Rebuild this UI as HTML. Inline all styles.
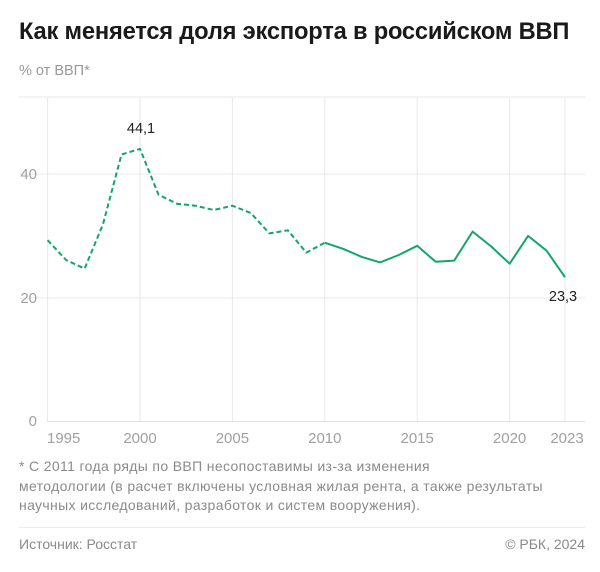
<!DOCTYPE html>
<html><head><meta charset="utf-8"><style>
html,body{margin:0;padding:0;background:#fff;}
body{width:600px;height:572px;position:relative;overflow:hidden;font-family:"Liberation Sans","Noto Sans CJK SC",sans-serif;}
.t{position:absolute;left:19px;top:19px;font-size:23.7px;font-weight:bold;color:#1a1a1a;letter-spacing:-0.2px;white-space:nowrap;}
.s{position:absolute;left:19px;top:63px;font-size:14.5px;color:#999;}
.f{position:absolute;left:19px;top:457px;font-size:14px;line-height:19.5px;color:#8a8a8a;letter-spacing:0.35px;white-space:nowrap;}
.sep{position:absolute;left:19px;right:15px;top:527px;height:1px;background:#ececec;}
.src{position:absolute;left:19px;top:536px;font-size:14px;color:#8a8a8a;}
.cp{position:absolute;right:15px;top:536px;font-size:14px;color:#8a8a8a;}
</style></head><body>
<div class="t">Как меняется доля экспорта в российском ВВП</div>
<div class="s">% от ВВП*</div>
<svg width="600" height="572" style="position:absolute;left:0;top:0">
<g stroke="#e8e8e8" stroke-width="1">
<line x1="19" y1="97" x2="585" y2="97"/>
<line x1="19" y1="174" x2="585" y2="174"/>
<line x1="19" y1="298" x2="585" y2="298"/>
<line x1="47.6" y1="97" x2="47.6" y2="421"/>
<line x1="140" y1="97" x2="140" y2="421"/>
<line x1="232.4" y1="97" x2="232.4" y2="421"/>
<line x1="324.8" y1="97" x2="324.8" y2="421"/>
<line x1="417.2" y1="97" x2="417.2" y2="421"/>
<line x1="509.6" y1="97" x2="509.6" y2="421"/>
<line x1="565" y1="97" x2="565" y2="421"/>
<line x1="47" y1="421.5" x2="585" y2="421.5" stroke="#e0e0e0"/>
</g>
<g font-size="15" fill="#a0a0a0" font-family="Liberation Sans,sans-serif">
<text x="37" y="179" text-anchor="end">40</text>
<text x="37" y="303" text-anchor="end">20</text>
<text x="37" y="426" text-anchor="end">0</text>
<text x="47" y="443">1995</text>
<text x="140" y="443" text-anchor="middle">2000</text>
<text x="232.4" y="443" text-anchor="middle">2005</text>
<text x="324.8" y="443" text-anchor="middle">2010</text>
<text x="417.2" y="443" text-anchor="middle">2015</text>
<text x="509.6" y="443" text-anchor="middle">2020</text>
<text x="567" y="443" text-anchor="middle">2023</text>
</g>
<g fill="none" stroke="#13a56a" stroke-width="2" stroke-linejoin="round">
<polyline stroke-dasharray="5,3" points="47.6,240.2 66.1,260 84.6,268.6 103,224.2 121.5,154.5 140,148.9 158.5,194.6 177,203.8 195.4,205.7 213.9,210 232.4,205.7 250.9,213.1 269.4,233.4 287.8,230.3 306.3,252.6 324.8,242.7"/>
<polyline points="324.8,242.7 343.3,248.9 361.8,256.9 380.2,262.4 398.7,255 417.2,245.8 435.7,261.8 454.2,260.6 472.6,231.6 491.1,246.4 509.6,263.7 528.1,235.9 546.6,250.7 565,277.2"/>
</g>
<g font-size="14.5" fill="#222" font-family="Liberation Sans,sans-serif">
<text x="141" y="133" text-anchor="middle">44,1</text>
<text x="563" y="301" text-anchor="middle">23,3</text>
</g>
</svg>
<div class="f">* С 2011 года ряды по ВВП несопоставимы из-за изменения<br>методологии (в расчет включены условная жилая рента, а также результаты<br>научных исследований, разработок и систем вооружения).</div>
<div class="sep"></div>
<div class="src">Источник: Росстат</div>
<div class="cp">© РБК, 2024</div>
</body></html>
